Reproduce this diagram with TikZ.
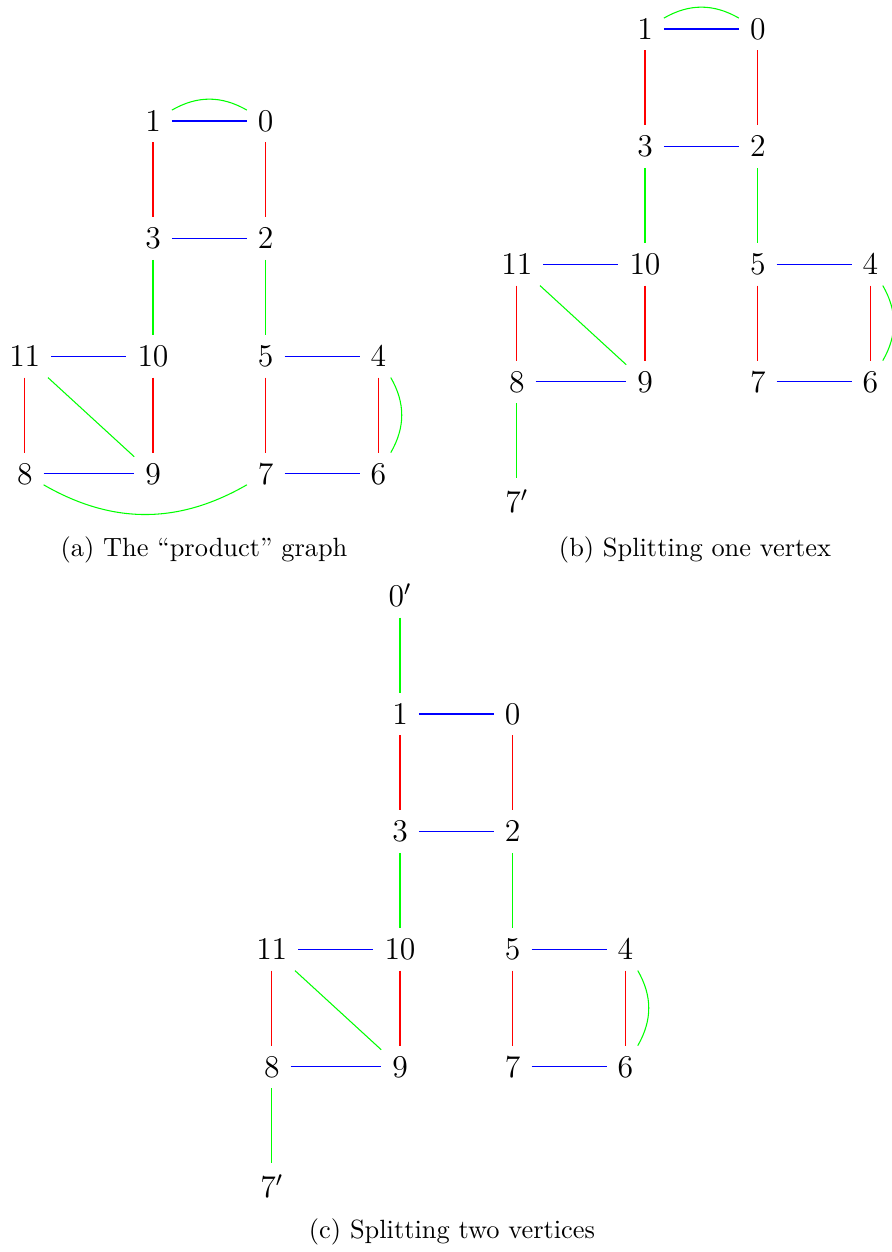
\documentclass[tikz,border=0pt]{standalone}
\usepackage{tikz}
\usetikzlibrary{positioning}
\tikzset{
  % Vertex: bare label, no outline
  vtx/.style={inner sep=4pt, font=\large},
  % Coloured edge
  edg/.style={color=#1, line width=0.4pt},
  % Sub-caption
  subcap/.style={font=\normalsize}
}
% Twelve vertices and the edges shared by all three graphs
\newcommand{\coregraph}[1]{%
  \node[vtx]                (#1v1)  at (0,0) {$1$};
  \node[vtx, right=of #1v1]  (#1v0)  {$0$};
  \node[vtx, below=of #1v1]  (#1v3)  {$3$};
  \node[vtx, below=of #1v0]  (#1v2)  {$2$};
  \node[vtx, below=of #1v3]  (#1v10) {$10$};
  \node[vtx, below=of #1v2]  (#1v5)  {$5$};
  \node[vtx, left=of #1v10]  (#1v11) {$11$};
  \node[vtx, right=of #1v5]  (#1v4)  {$4$};
  \node[vtx, below=of #1v11] (#1v8)  {$8$};
  \node[vtx, below=of #1v10] (#1v9)  {$9$};
  \node[vtx, below=of #1v5]  (#1v7)  {$7$};
  \node[vtx, below=of #1v4]  (#1v6)  {$6$};
  \draw[edg=blue]  (#1v1)  -- (#1v0);
  \draw[edg=blue]  (#1v3)  -- (#1v2);
  \draw[edg=blue]  (#1v11) -- (#1v10);
  \draw[edg=blue]  (#1v5)  -- (#1v4);
  \draw[edg=blue]  (#1v8)  -- (#1v9);
  \draw[edg=blue]  (#1v7)  -- (#1v6);
  \draw[edg=red]   (#1v1)  -- (#1v3);
  \draw[edg=red]   (#1v0)  -- (#1v2);
  \draw[edg=red]   (#1v11) -- (#1v8);
  \draw[edg=red]   (#1v10) -- (#1v9);
  \draw[edg=red]   (#1v5)  -- (#1v7);
  \draw[edg=red]   (#1v4)  -- (#1v6);
  \draw[edg=green] (#1v3)  -- (#1v10);
  \draw[edg=green] (#1v2)  -- (#1v5);
  \draw[edg=green] (#1v11) -- (#1v9);
  \draw[edg=green] (#1v4)  to[bend left] (#1v6);
}

\begin{document}
\begin{tikzpicture}[x=0.379pt, y=-0.379pt, node distance=1cm]
  \useasboundingbox (0,0) rectangle (892,1252);

  % (a) product graph
  \begin{scope}[shift={(153,121)}]
    \coregraph{a}
    \draw[edg=green] (av1) to[bend left]  (av0);
    \draw[edg=green] (av8) to[bend right] (av7);
  \end{scope}
  \node[subcap] (capa) at (204,550) {(a) The “product” graph};

  % (b) one vertex split
  \begin{scope}[shift={(645,29)}]
    \coregraph{b}
    \node[vtx, below=of bv8] (bv7p) {$7'$};
    \draw[edg=green] (bv1) to[bend left] (bv0);
    \draw[edg=green] (bv8) -- (bv7p);
  \end{scope}
  \node[subcap] (capb) at (695,550) {(b) Splitting one vertex};

  % (c) two vertices split
  \begin{scope}[shift={(400,714)}]
    \coregraph{c}
    \node[vtx, above=of cv1] (cv0p) {$0'$};
    \node[vtx, below=of cv8] (cv7p) {$7'$};
    \draw[edg=green] (cv0p) -- (cv1);
    \draw[edg=green] (cv8)  -- (cv7p);
  \end{scope}
  \node[subcap] (capc) at (452,1232) {(c) Splitting two vertices};
\end{tikzpicture}
\end{document}
